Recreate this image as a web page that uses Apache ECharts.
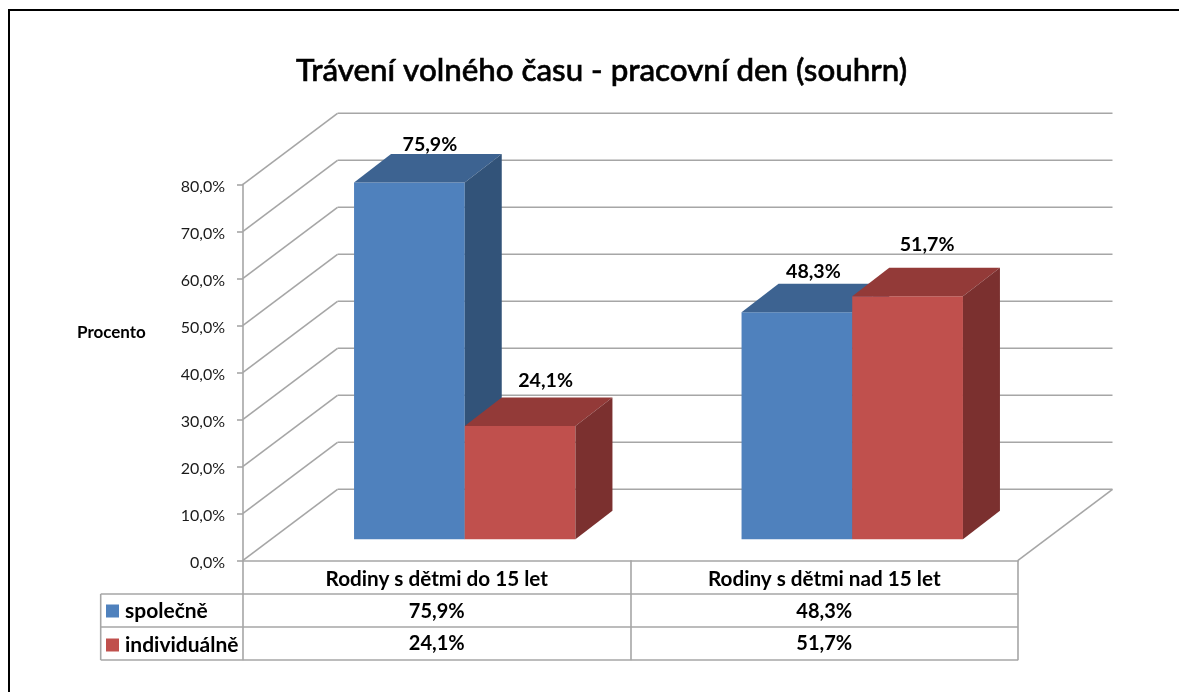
<!DOCTYPE html>
<html>
<head>
<meta charset="utf-8">
<style>html,body{margin:0;padding:0;background:#fff}#c{width:1179px;height:692px}</style>
<script src="https://cdn.jsdelivr.net/npm/echarts@6/dist/echarts.min.js"></script>
</head>
<body>
<div id="c"></div>
<script>
const categories = ['Rodiny s dětmi do 15 let', 'Rodiny s dětmi nad 15 let'];
const spolecne = [75.9, 48.3];
const individualne = [24.1, 51.7];
const ticks = [0, 10, 20, 30, 40, 50, 60, 70, 80];

const fmt = v => v.toFixed(1).replace('.', ',') + '%';
const FONT = 'Lato, "Noto Sans", sans-serif';
const GRID = '#a6a6a6';
const WALL = {dx: 94.5, dy: -71};
const PLANE = {dx: 28, dy: -21};
const BAR = {w: 110.7, dx: 37, dy: -28.6};
const ROWS = [594, 627, 660];
const labelShift = [[{x: 2, y: -9}, {x: 7, y: -17}], [{x: -2, y: -12}, {x: 1, y: -23}]];

const shape = (pts, fill) => ({type: 'polygon', shape: {points: pts}, style: {fill, stroke: null}});

function barSeries(name, values, idx, front, top, side) {
  return {
    type: 'custom', name, coordinateSystem: 'cartesian2d', silent: true,
    itemStyle: {color: front}, encode: {x: 0, y: 1}, z: 5 + idx,
    data: values.map((v, i) => [i, v]),
    renderItem(params, api) {
      const cat = api.value(0), val = api.value(1);
      const b = api.coord([cat, 0]), t = api.coord([cat, val]);
      const x0 = b[0] + PLANE.dx + (idx === 0 ? -BAR.w : 0), x1 = x0 + BAR.w;
      const yb = b[1] + PLANE.dy, yt = t[1] + PLANE.dy;
      const s = labelShift[cat][idx];
      return {type: 'group', children: [
        shape([[x0, yb], [x1, yb], [x1, yt], [x0, yt]], front),
        shape([[x0, yt], [x1, yt], [x1 + BAR.dx, yt + BAR.dy], [x0 + BAR.dx, yt + BAR.dy]], top),
        shape([[x1, yb], [x1 + BAR.dx, yb + BAR.dy], [x1 + BAR.dx, yt + BAR.dy], [x1, yt]], side),
        {type: 'text', z2: 10, style: {
          x: (x0 + x1) / 2 + BAR.dx / 2 + s.x, y: yt + BAR.dy + s.y,
          text: fmt(val), align: 'center', verticalAlign: 'middle',
          fill: '#000', font: 'bold 19.6px ' + FONT}}
      ]};
    }
  };
}

const line = (x1, y1, x2, y2, w) => ({type: 'line', shape: {x1, y1, x2, y2}, style: {stroke: GRID, lineWidth: w || 1.6}});

const option = {
  animation: false,
  backgroundColor: '#fff',
  title: {
    text: 'Trávení volného času - pracovní den (souhrn)', left: 291, top: 50,
    textStyle: {fontFamily: FONT, fontSize: 31.3, fontWeight: 500, color: '#000', textBorderColor: '#000', textBorderWidth: 0.6}
  },
  legend: {
    data: [{name: 'společně', icon: 'rect'}, {name: 'individuálně', icon: 'rect'}],
    orient: 'vertical', left: 106, top: 600, padding: 0,
    itemWidth: 13, itemHeight: 13, itemGap: 12,
    selectedMode: false,
    textStyle: {fontFamily: FONT, fontSize: 21, fontWeight: 'bold', color: '#000', padding: [1, 0, 0, 1], lineHeight: 21}
  },
  grid: {left: 243, right: 161, top: 184.3, height: 376},
  xAxis: {
    type: 'category', data: categories,
    axisLine: {lineStyle: {color: GRID, width: 1.6}},
    axisTick: {show: true, length: 100, lineStyle: {color: GRID, width: 1.6}},
    axisLabel: {margin: 9, interval: 0, fontFamily: FONT, fontSize: 20.7, fontWeight: 'bold', color: '#000'}
  },
  yAxis: {
    type: 'value', min: 0, max: 80, interval: 10,
    splitLine: {show: false},
    axisLine: {show: true, lineStyle: {color: GRID, width: 1.6}},
    axisTick: {show: true, length: 6, lineStyle: {color: GRID, width: 1.6}},
    axisLabel: {
      margin: 18, formatter: v => '{a|' + fmt(v) + '}',
      rich: {a: {fontFamily: FONT, fontSize: 16, color: '#1a1a1a', padding: [6, 0, 0, 0]}}
    }
  },
  graphic: [
    {type: 'text', left: 77, top: 324, style: {text: 'Procento', fill: '#000', font: 'bold 17px ' + FONT}},
    {type: 'rect', shape: {x: 9, y: 10, width: 1400, height: 900}, style: {fill: null, stroke: '#000', lineWidth: 2}, z: -1}
  ],
  series: [
    {
      type: 'custom', name: 'walls', silent: true, coordinateSystem: 'cartesian2d', z: 1,
      encode: {y: 0}, data: ticks.map(t => [t]),
      renderItem(params, api) {
        const cs = params.coordSys;
        const y = api.coord([0, api.value(0)])[1];
        const xl = cs.x, xr = cs.x + cs.width;
        const kids = [
          line(xl, y, xl + WALL.dx, y + WALL.dy),
          line(xl + WALL.dx, y + WALL.dy, xr + WALL.dx, y + WALL.dy)
        ];
        if (api.value(0) === 0) kids.push(line(xr, y, xr + WALL.dx, y + WALL.dy));
        return {type: 'group', children: kids};
      }
    },
    {
      type: 'custom', name: 'table', silent: true, coordinateSystem: 'cartesian2d', z: 2,
      encode: {x: 0}, data: categories.map((c, i) => [i, spolecne[i], individualne[i]]),
      renderItem(params, api) {
        const cs = params.coordSys;
        const cat = api.value(0);
        const cx = api.coord([cat, 0])[0];
        const kids = [
          {type: 'text', style: {x: cx, y: (ROWS[0] + ROWS[1]) / 2 + 1, text: fmt(api.value(1)), align: 'center', verticalAlign: 'middle', fill: '#000', font: 'bold 20px ' + FONT}},
          {type: 'text', style: {x: cx, y: (ROWS[1] + ROWS[2]) / 2, text: fmt(api.value(2)), align: 'center', verticalAlign: 'middle', fill: '#000', font: 'bold 20px ' + FONT}}
        ];
        if (cat === 0) {
          ROWS.forEach(r => kids.push(line(100.7, r, cs.x + cs.width, r)));
          kids.push(line(100.7, ROWS[0], 100.7, ROWS[2]));
        }
        return {type: 'group', children: kids};
      }
    },
    barSeries('společně', spolecne, 0, '#4F81BD', '#3D6391', '#325379'),
    barSeries('individuálně', individualne, 1, '#C0504D', '#933A38', '#7B302F')
  ]
};
const chart = echarts.init(document.getElementById('c'), null, {renderer: 'canvas'});
chart.setOption(option);
</script>
</body>
</html>
